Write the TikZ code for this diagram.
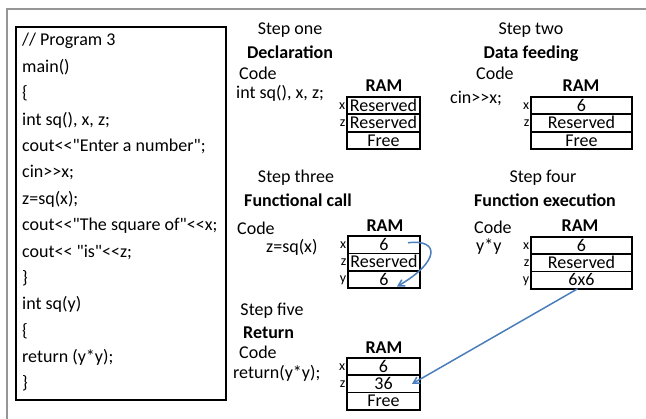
\documentclass[tikz,border=0pt]{standalone}
\usepackage{fontspec}
\setmainfont{Carlito}[Ligatures=TeXOff]
\usetikzlibrary{arrows.meta,positioning}
\definecolor{MemBlue}{RGB}{74,126,187}
\definecolor{MemGray}{RGB}{150,150,150}
\tikzset{
  mem/frame/.style={draw=MemGray, line width=1.4pt},
  mem/listing/.style={draw=black, line width=2.6pt, inner sep=0pt},
  mem/code/.style={anchor=base west, inner sep=0pt, font=\fontsize{18}{22}\selectfont},
  mem/step/.style={anchor=base, inner sep=0pt, font=\fontsize{18}{22}\selectfont},
  mem/title/.style={anchor=base, inner sep=0pt, font=\fontsize{18}{22}\selectfont\bfseries},
  mem/cell/.style={
    draw=black,
    line width=1.8pt,
    minimum height=17.3pt,
    inner sep=0pt,
    outer sep=0pt,
    text height=11.5pt,
    text depth=0pt,
    font=\fontsize{18}{22}\selectfont
  },
  mem/tag/.style={inner sep=0pt, text height=7pt, text depth=0pt, font=\fontsize{14}{16}\selectfont},
  mem/arrow/.style={-{Straight Barb[angle=60:7pt]}, line width=1.5pt, draw=MemBlue}
}
\begin{document}
\begin{tikzpicture}[x=1pt,y=1pt]
  \useasboundingbox (0,0) rectangle (646,419);
  \draw[mem/frame] (7,0) |- (646,410);
  \node[mem/listing, minimum width=210pt, minimum height=373pt] (prog) at (121,205.5) {};
  \foreach \ln [count=\i from 0] in {// Program 3, main(), \{, {int sq(), x, z;}, cout<<"Enter a number";, cin>>x;, z=sq(x);, cout<<"The square of"<<x;, cout<< "is"<<z;, \}, int sq(y), \{, return (y*y);, \}}
    \node[mem/code] (line\i) at (22,373-26.38*\i) {\ln};

  \node[mem/step] (s1) at (290,384) {Step one};
  \node[mem/title] (t1) at (290,360) {Declaration};
  \node[mem/code] (c1) at (239,339) {Code};
  \node[mem/code] (k1) at (236,320) {int sq(), x, z;};
  \node[mem/title] (r1) at (384,327) {RAM};
  \node[mem/cell, minimum width=73pt] (m1x) at (383.5,313.3) {Reserved};
  \node[mem/cell, minimum width=73pt, below=0pt of m1x] (m1z) {Reserved};
  \node[mem/cell, minimum width=73pt, below=0pt of m1z] (m1f) {Free};
  \node[mem/tag, left=1.5pt of m1x] (l1x) {x};
  \node[mem/tag, left=1.5pt of m1z] (l1z) {z};

  \node[mem/step] (s2) at (531,384) {Step two};
  \node[mem/title] (t2) at (531,360) {Data feeding};
  \node[mem/code] (c2) at (476,339) {Code};
  \node[mem/code] (k2) at (450,315) {cin>>x;};
  \node[mem/title] (r2) at (581,327) {RAM};
  \node[mem/cell, minimum width=101pt] (m2x) at (581.5,313.3) {6};
  \node[mem/cell, minimum width=101pt, below=0pt of m2x] (m2z) {Reserved};
  \node[mem/cell, minimum width=101pt, below=0pt of m2z] (m2f) {Free};
  \node[mem/tag, left=1.5pt of m2x] (l2x) {x};
  \node[mem/tag, left=1.5pt of m2z] (l2z) {z};

  \node[mem/step] (s3) at (296,236) {Step three};
  \node[mem/title] (t3) at (298,212) {Functional call};
  \node[mem/code] (c3) at (237,184) {Code};
  \node[mem/code] (k3) at (266,166) {z=sq(x)};
  \node[mem/title] (r3) at (385,187) {RAM};
  \node[mem/cell, minimum width=72pt] (m3x) at (384,174.2) {6};
  \node[mem/cell, minimum width=72pt, below=0pt of m3x] (m3z) {Reserved};
  \node[mem/cell, minimum width=72pt, below=0pt of m3z] (m3y) {6};
  \node[mem/tag, left=1.5pt of m3x] (l3x) {x};
  \node[mem/tag, left=1.5pt of m3z] (l3z) {z};
  \node[mem/tag, left=1.5pt of m3y] (l3y) {y};

  \node[mem/step] (s4) at (543,236) {Step four};
  \node[mem/title] (t4) at (545,212) {Function execution};
  \node[mem/code] (c4) at (474,185) {Code};
  \node[mem/code] (k4) at (476,167) {y*y};
  \node[mem/title] (r4) at (580,187) {RAM};
  \node[mem/cell, minimum width=101pt] (m4x) at (581.5,173.4) {6};
  \node[mem/cell, minimum width=101pt, below=0pt of m4x] (m4z) {Reserved};
  \node[mem/cell, minimum width=101pt, below=0pt of m4z] (m4y) {6x6};
  \node[mem/tag, left=1.5pt of m4x] (l4x) {x};
  \node[mem/tag, left=1.5pt of m4z] (l4z) {z};
  \node[mem/tag, left=1.5pt of m4y] (l4y) {y};

  \node[mem/step] (s5) at (272,103) {Step five};
  \node[mem/title, anchor=base west] (t5) at (243,80) {Return};
  \node[mem/code] (c5) at (239,60) {Code};
  \node[mem/code] (k5) at (233,40) {return(y*y);};
  \node[mem/title] (r5) at (384,65) {RAM};
  \node[mem/cell, minimum width=73pt] (m5x) at (383.5,52.4) {6};
  \node[mem/cell, minimum width=73pt, below=0pt of m5x] (m5z) {36};
  \node[mem/cell, minimum width=73pt, below=0pt of m5z] (m5f) {Free};
  \node[mem/tag, left=1.5pt of m5x] (l5x) {x};
  \node[mem/tag, left=1.5pt of m5z] (l5z) {z};

  \draw[mem/arrow] ([xshift=-12pt,yshift=2pt]m3x.east) .. controls +(32,4) and +(43,25) .. ([xshift=-23pt,yshift=1.5pt]m3y.south east);
  \draw[mem/arrow] ([xshift=-4pt]m4y.south) -- ([xshift=-8pt]m5z.east);
\end{tikzpicture}
\end{document}
